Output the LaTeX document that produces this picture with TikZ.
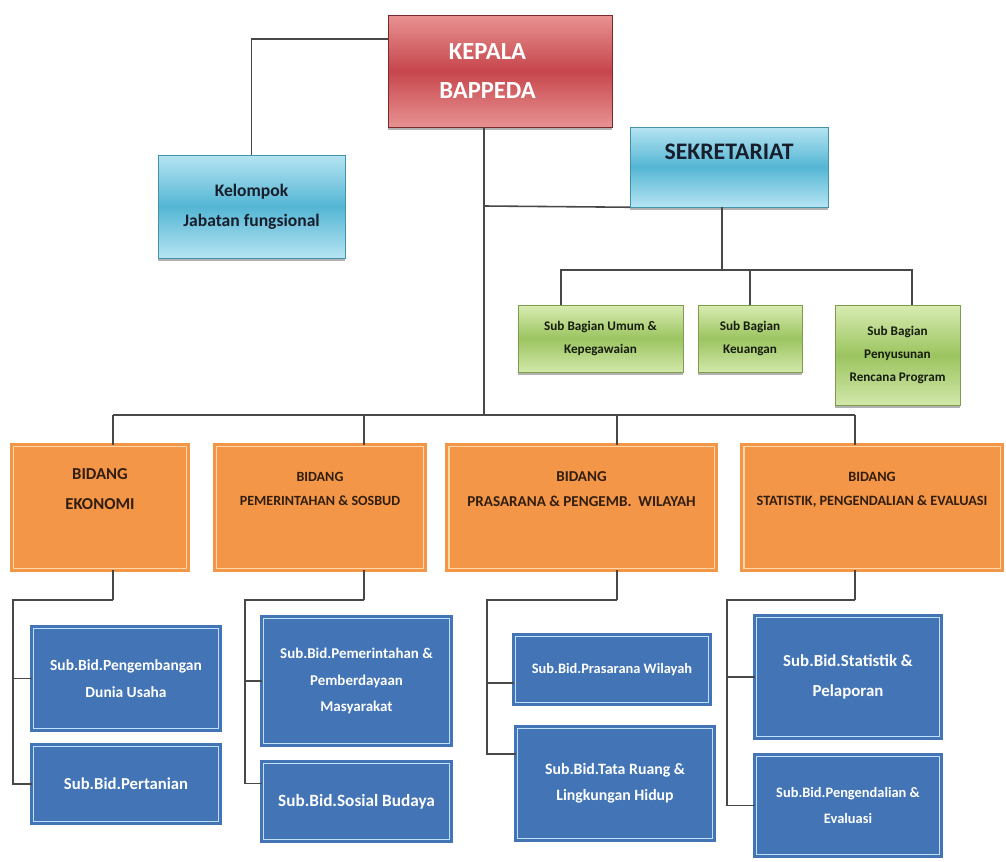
\documentclass[tikz,border=0pt]{standalone}
\usepackage{fontspec}
\setmainfont{Carlito}
\usepackage{tikz}
\usetikzlibrary{shadows}
\usepackage{xcolor}
\definecolor{ColKep}{RGB}{198,70,76}
\definecolor{ColKepL}{RGB}{232,146,146}
\definecolor{ColSky}{RGB}{84,182,212}
\definecolor{ColSkyL}{RGB}{182,228,242}
\definecolor{ColLeaf}{RGB}{156,196,96}
\definecolor{ColLeafL}{RGB}{216,236,178}
\definecolor{ColOrg}{RGB}{244,150,72}
\definecolor{ColOrgL}{RGB}{255,216,170}
\definecolor{ColBlu}{RGB}{66,116,182}
\definecolor{ColBluL}{RGB}{190,224,250}
\definecolor{ColInk}{RGB}{24,30,44}
\definecolor{ColLine}{RGB}{72,72,72}
\tikzstyle{BoxBase}=[rectangle,align=center,inner sep=2pt,
drop shadow={shadow xshift=0pt,shadow yshift=-1.6pt,fill=black!60}]
\tikzstyle{KepalaBox}=[BoxBase,top color=ColKepL,bottom color=ColKepL,middle color=ColKep,
draw=ColKep!60!black,line width=.4pt,text=white,font=\bfseries\fontsize{14}{22}\selectfont]
\tikzstyle{SkyBox}=[BoxBase,top color=ColSkyL,bottom color=ColSkyL,middle color=ColSky,
draw=ColSky!80!black,line width=.3pt,text=ColInk,font=\bfseries\fontsize{10}{17}\selectfont]
\tikzstyle{LeafBox}=[BoxBase,top color=ColLeafL,bottom color=ColLeafL!90!ColLeaf,middle color=ColLeaf,
draw=ColLeaf!80!black,line width=.3pt,text=black!85!ColLeaf,font=\bfseries\fontsize{7.5}{13}\selectfont]
\tikzstyle{BidangBox}=[BoxBase,fill=ColOrg,draw=ColOrg,double=ColOrgL,double distance=1.1pt,
line width=1.6pt,text=black!80!ColOrg,text depth=.75cm,font=\bfseries\fontsize{8}{14}\selectfont]
\tikzstyle{SubBidBox}=[BoxBase,fill=ColBlu,draw=ColBlu,double=ColBluL,double distance=1.1pt,
line width=1.6pt,text=white,font=\bfseries\fontsize{9.5}{15}\selectfont]
\tikzstyle{Link}=[ColLine,line width=.9pt]

\begin{document}
\begin{tikzpicture}[x=.02cm,y=-.02cm]
    \useasboundingbox(0,0)rectangle(1006,861);
    % pimpinan dan sekretariat
    \node[KepalaBox,minimum width=4.48cm,minimum height=2.24cm](kepala)at(500,71){KEPALA\hspace*{.5cm}\\BAPPEDA\hspace*{.5cm}};
    \node[SkyBox,minimum width=3.74cm,minimum height=2.06cm](kelompok)at(251.5,206.5){Kelompok\\Jabatan fungsional};
    \node[SkyBox,minimum width=3.96cm,minimum height=1.6cm,text depth=.62cm,
        font=\bfseries\fontsize{13.5}{16}\selectfont](sek)at(729,167){SEKRETARIAT};
    \node[LeafBox,minimum width=3.3cm,minimum height=1.34cm](umum)at(600.5,338.5){Sub Bagian Umum \&\\Kepegawaian};
    \node[LeafBox,minimum width=2.08cm,minimum height=1.34cm](keu)at(750,338.5){Sub Bagian\\Keuangan};
    \node[LeafBox,minimum width=2.5cm,minimum height=2cm](pen)at(897.5,355){Sub Bagian\\Penyusunan\\Rencana Program};
    % bidang
    \node[BidangBox,minimum width=3.46cm,minimum height=2.44cm,
        font=\bfseries\fontsize{9.5}{17}\selectfont](eko)at(100,507.5){BIDANG\\EKONOMI};
    \node[BidangBox,minimum width=4.14cm,minimum height=2.44cm](pem)at(320,507.5){BIDANG\\PEMERINTAHAN \& SOSBUD};
    \node[BidangBox,minimum width=5.32cm,minimum height=2.44cm,
        font=\bfseries\fontsize{8.6}{14}\selectfont](pra)at(581.5,507.5){BIDANG\\PRASARANA \& PENGEMB.\ \ WILAYAH};
    \node[BidangBox,minimum width=5.14cm,minimum height=2.44cm,
        font=\bfseries\fontsize{8.1}{14}\selectfont](sta)at(872,507.5){BIDANG\\STATISTIK, PENGENDALIAN \& EVALUASI};
    % sub bidang
    \node[SubBidBox,minimum width=3.7cm,minimum height=2cm,font=\bfseries\fontsize{8.8}{15}\selectfont](sa1)at(126,678.5){Sub.Bid.Pengembangan\\Dunia Usaha};
    \node[SubBidBox,minimum width=3.7cm,minimum height=1.5cm](sb1)at(126,784){Sub.Bid.Pertanian};
    \node[SubBidBox,minimum width=3.72cm,minimum height=2.5cm,font=\bfseries\fontsize{8.5}{15}\selectfont](sa2)at(356.5,681){Sub.Bid.Pemerintahan \&\\Pemberdayaan\\Masyarakat};
    \node[SubBidBox,minimum width=3.72cm,minimum height=1.52cm,font=\bfseries\fontsize{9.8}{15}\selectfont](sb2)at(356.5,801.5){Sub.Bid.Sosial Budaya};
    \node[SubBidBox,minimum width=3.86cm,minimum height=1.32cm,font=\bfseries\fontsize{8.2}{15}\selectfont](sa3)at(612,669.5){Sub.Bid.Prasarana Wilayah};
    \node[SubBidBox,minimum width=3.9cm,minimum height=2.2cm,font=\bfseries\fontsize{9}{15}\selectfont](sb3)at(615,783.5){Sub.Bid.Tata Ruang \&\\Lingkungan Hidup};
    \node[SubBidBox,minimum width=3.66cm,minimum height=2.38cm,font=\bfseries\fontsize{9.6}{17}\selectfont](sa4)at(848,677){Sub.Bid.Statistik \&\\Pelaporan};
    \node[SubBidBox,minimum width=3.66cm,minimum height=1.96cm,font=\bfseries\fontsize{8.2}{15}\selectfont](sb4)at(848,805.5){Sub.Bid.Pengendalian \&\\Evaluasi};
    % garis
    \coordinate(trunk)at(484,415);
    \coordinate(tsek)at(484,206);
    \coordinate(sbar)at(722,270);
    \coordinate(c1)at(113,600);\coordinate(l1)at(13,600);
    \coordinate(c2)at(364,600);\coordinate(l2)at(245,600);
    \coordinate(c3)at(617,600);\coordinate(l3)at(487,600);
    \coordinate(c4)at(855,600);\coordinate(l4)at(727,600);
    \draw[Link](kepala.164)-|(kelompok.north);
    \draw[Link](kepala.south-|trunk)--(trunk);
    \draw[Link](tsek)--(sek.south west);
    \draw[Link](sek.south-|sbar)--(sbar);
    \draw[Link]([xshift=-.79cm]umum.north)|-([xshift=.29cm]pen.north|-sbar)--([xshift=.29cm]pen.north);
    \draw[Link](keu.north)--(keu.north|-sbar);
    \draw[Link](c1|-trunk)--(c4|-trunk);
    \foreach \c/\n in {c1/eko,c2/pem,c3/pra,c4/sta}{
        \draw[Link](\c|-trunk)--(\c|-\n.north);
        \draw[Link](\c|-\n.south)--(\c);
    }
    \draw[Link](c1)--(l1)|-(sa1.west);
    \draw[Link](l1)|-(sb1.west);
    \draw[Link](c2)--(l2)|-(sa2.west);
    \draw[Link](l2)|-([yshift=.36cm]sb2.west);
    \draw[Link](c3)--(l3)|-([yshift=-.27cm]sa3.west);
    \draw[Link](l3)|-([yshift=.59cm]sb3.west);
    \draw[Link](c4)--(l4)|-(sa4.west);
    \draw[Link](l4)|-(sb4.west);
\end{tikzpicture}
\end{document}
